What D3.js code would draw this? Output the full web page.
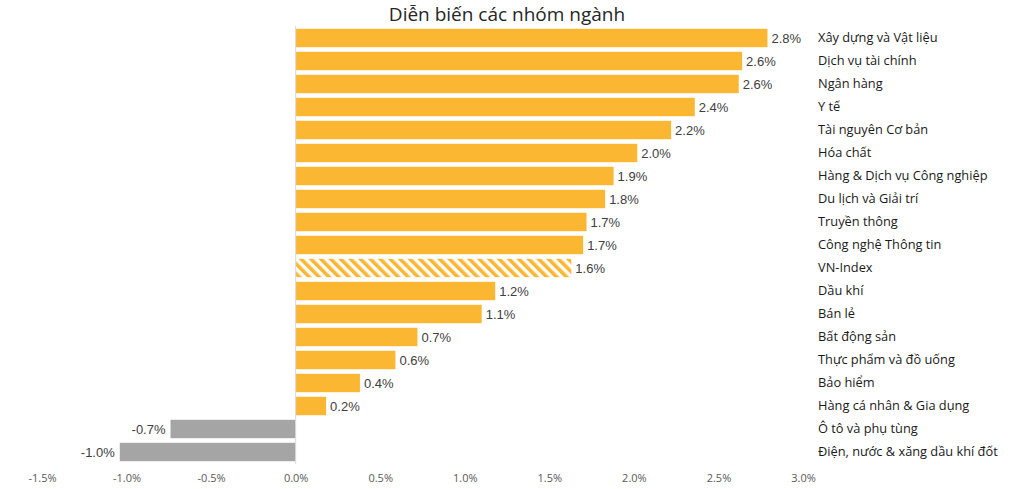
<!DOCTYPE html>
<html><head><meta charset="utf-8">
<script src="https://cdn.jsdelivr.net/npm/d3@7"></script>
<style>body{margin:0;background:#fff}svg{display:block}</style>
</head><body><svg id="c" width="1024" height="489"></svg>
<script>
const categories = ["Xây dựng và Vật liệu","Dịch vụ tài chính","Ngân hàng","Y tế","Tài nguyên Cơ bản","Hóa chất","Hàng & Dịch vụ Công nghiệp","Du lịch và Giải trí","Truyền thông","Công nghệ Thông tin","VN-Index","Dầu khí","Bán lẻ","Bất động sản","Thực phẩm và đồ uống","Bảo hiểm","Hàng cá nhân & Gia dụng","Ô tô và phụ tùng","Điện, nước & xăng dầu khí đốt"];
const values = [2.79,2.64,2.62,2.36,2.22,2.02,1.88,1.83,1.72,1.70,1.63,1.18,1.10,0.72,0.59,0.38,0.18,-0.74,-1.04];
const tickValues = [-1.5,-1.0,-0.5,0,0.5,1.0,1.5,2.0,2.5,3.0];
const highlight = "VN-Index";
const title = "Diễn biến các nhóm ngành";

const fmt = v => (Math.round(v*10)/10).toFixed(1) + "%";

const svg = d3.select("#c");
const x = d3.scaleLinear().domain([-1.5,3.0]).range([42,803]);
const y = d3.scaleBand().domain(categories).range([26.5,463.5]).paddingInner(0.2).paddingOuter(0.1);

const defs = svg.append("defs");
const pat = defs.append("pattern").attr("id","hatch").attr("patternUnits","userSpaceOnUse")
  .attr("width",7).attr("height",7).attr("patternTransform","rotate(-45)");
pat.append("rect").attr("width",7).attr("height",7).attr("fill","#fff");
pat.append("rect").attr("width",3.6).attr("height",7).attr("fill","#FBB731");

svg.append("text").attr("x",507).attr("y",20.5).attr("text-anchor","middle")
  .attr("font-family","Open Sans").attr("font-size",19).attr("fill","#262626").text(title);

svg.selectAll("rect.bar").data(categories).join("rect").attr("class","bar")
  .attr("x",(d,i)=>x(Math.min(0,values[i])))
  .attr("width",(d,i)=>Math.abs(x(values[i])-x(0)))
  .attr("y",d=>y(d)).attr("height",y.bandwidth())
  .attr("fill",(d,i)=>d===highlight?"url(#hatch)":(values[i]<0?"#A5A5A5":"#FBB731"));

svg.append("line").attr("x1",x(0)).attr("x2",x(0)).attr("y1",26).attr("y2",464)
  .attr("stroke","#d9d9d9").attr("stroke-width",1);

svg.selectAll("text.val").data(categories).join("text").attr("class","val")
  .attr("x",(d,i)=>values[i]>=0?x(values[i])+4:x(values[i])-5)
  .attr("y",d=>y(d)+y.bandwidth()/2).attr("dy","0.35em")
  .attr("text-anchor",(d,i)=>values[i]>=0?"start":"end")
  .attr("font-family","Liberation Sans, Arial").attr("font-size",13).attr("fill","#404040")
  .text((d,i)=>fmt(values[i]));

svg.selectAll("text.cat").data(categories).join("text").attr("class","cat")
  .attr("x",818).attr("y",d=>y(d)+y.bandwidth()/2).attr("dy","0.35em")
  .attr("font-family","Open Sans").attr("font-size",12.8).attr("fill","#1a1a1a")
  .text(d=>d);

const axis = d3.axisBottom(x).tickValues(tickValues).tickSize(0).tickFormat(fmt);
const g = svg.append("g").attr("transform","translate(0,471)").call(axis);
g.select(".domain").remove();
g.selectAll("text").attr("font-family","Open Sans").attr("font-size",11).attr("fill","#595959");
</script></body></html>
